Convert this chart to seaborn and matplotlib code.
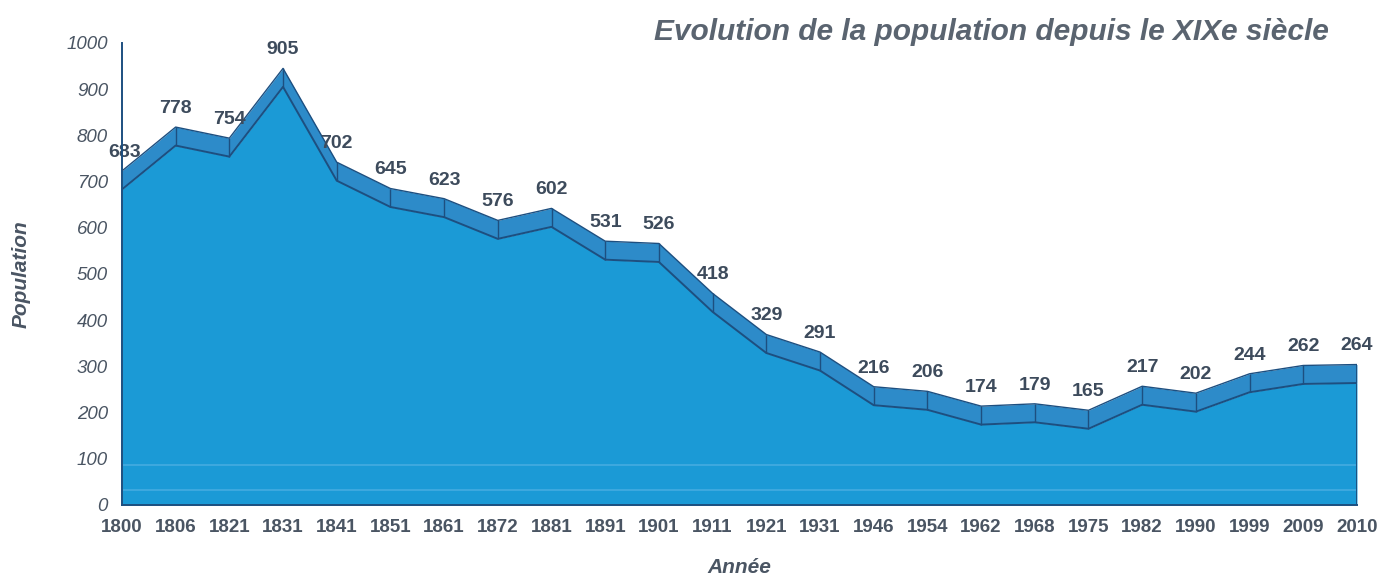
import numpy as np
import pandas as pd
import matplotlib
matplotlib.use('Agg')
import matplotlib.pyplot as plt
import seaborn as sns

annees = ['1800', '1806', '1821', '1831', '1841', '1851', '1861', '1872', '1881', '1891',
          '1901', '1911', '1921', '1931', '1946', '1954', '1962', '1968', '1975', '1982',
          '1990', '1999', '2009', '2010']
population = [683, 778, 754, 905, 702, 645, 623, 576, 602, 531,
              526, 418, 329, 291, 216, 206, 174, 179, 165, 217,
              202, 244, 262, 264]
y_ticks = [0, 100, 200, 300, 400, 500, 600, 700, 800, 900, 1000]

FILL = '#1b9ad6'
BAND = '#2d8bc9'
EDGE = '#1d4f80'
TEXT = '#4a5563'
DEPTH = 40


def main():
    df = pd.DataFrame({'annee': annees, 'population': population})
    df['pos'] = np.arange(len(df))
    df['haut'] = df['population'] + DEPTH

    sns.set_style('white')
    plt.rcParams['font.family'] = ['Liberation Sans', 'DejaVu Sans']

    fig = plt.figure(figsize=(13.81, 5.77), dpi=100)
    ax = fig.add_axes([0.0883, 0.1248, 0.8943, 0.8007])

    # face avant
    ax.fill_between(df['pos'], 0, df['population'], color=FILL, zorder=2, linewidth=0)
    # bande supérieure (effet 3D)
    ax.fill_between(df['pos'], df['population'], df['haut'], color=BAND, zorder=3, linewidth=0)
    sns.lineplot(data=df, x='pos', y='population', color=EDGE, lw=1.4, ax=ax, zorder=4)
    sns.lineplot(data=df, x='pos', y='haut', color=EDGE, lw=1.0, ax=ax, zorder=4)
    ax.vlines(df['pos'][1:], df['population'][1:], df['haut'][1:], color=EDGE, lw=1.0, zorder=4)
    ax.vlines([df['pos'].iloc[-1]], 0, df['haut'].iloc[-1], color=EDGE, lw=1.4, zorder=4)

    # lignes claires dans la zone
    for lvl in (32, 86):
        ax.axhline(lvl, color='#5fb6e6', lw=1.2, alpha=0.6, zorder=3)

    for i, (p, v) in enumerate(zip(df['pos'], df['population'])):
        dx = 0.05 if i == 0 else 0
        ax.text(p + dx, v + DEPTH + 22, str(v), ha='center', va='bottom',
                fontsize=14, fontweight='bold', color='#3d4b5c', zorder=5)

    ax.set_xlim(0, len(df) - 1)
    ax.set_ylim(0, 1000)
    ax.set_xticks(df['pos'])
    ax.set_xticklabels(df['annee'], fontsize=13.5, fontweight='bold', color=TEXT)
    ax.set_yticks(y_ticks)
    ax.set_yticklabels([str(t) for t in y_ticks], fontsize=13.5, style='italic', color=TEXT)
    ax.tick_params(axis='both', length=4, width=1, color=TEXT, direction='out', pad=6)
    ax.tick_params(axis='x', pad=6)

    for side in ('top', 'right'):
        ax.spines[side].set_visible(False)
    for side in ('left', 'bottom'):
        ax.spines[side].set_color(EDGE)
        ax.spines[side].set_linewidth(1.4)
        ax.spines[side].set_zorder(6)

    ax.set_xlabel('Année', fontsize=15, fontweight='bold', style='italic', color=TEXT, labelpad=16)
    ax.set_ylabel('Population', fontsize=15, fontweight='bold', style='italic', color=TEXT, labelpad=26)

    fig.text(0.718, 0.944, 'Evolution de la population depuis le XIXe siècle',
             ha='center', va='center', fontsize=21.5, fontweight='bold', style='italic',
             color='#5a6470')

    fig.savefig('out.png', dpi=100)


if __name__ == '__main__':
    main()
